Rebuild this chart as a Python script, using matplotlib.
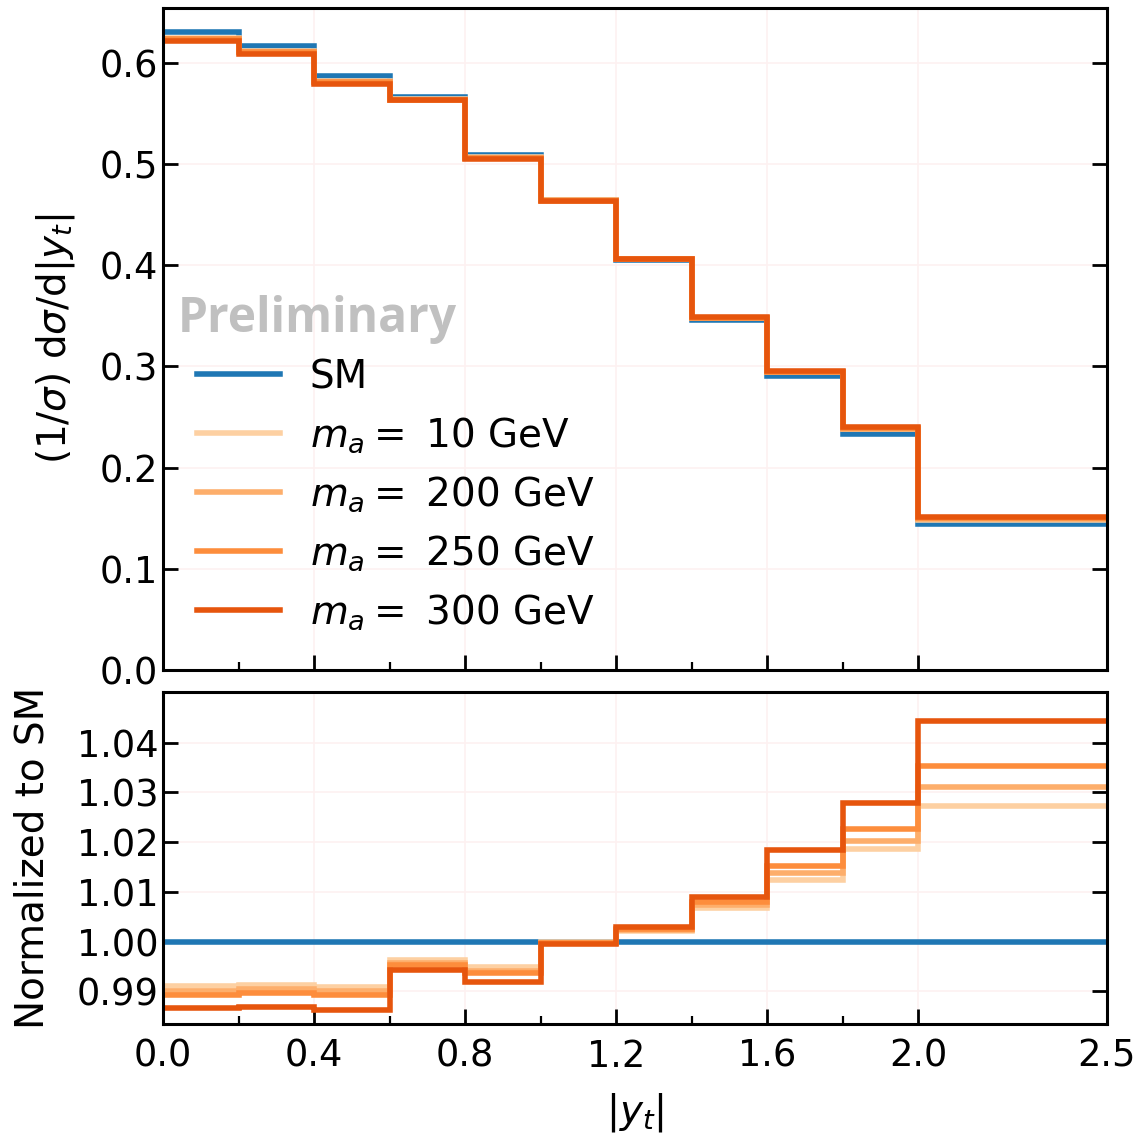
import numpy as np
import matplotlib
matplotlib.use("Agg")
import matplotlib.pyplot as plt

# bin edges in |y_t|
edges = [0.0, 0.2, 0.4, 0.6, 0.8, 1.0, 1.2, 1.4, 1.6, 1.8, 2.0, 2.5]

# normalised SM distribution
sm = [0.630, 0.6166, 0.587, 0.566, 0.509, 0.464, 0.4054, 0.3455, 0.2905, 0.2336, 0.1448]

# ratio to SM for each pseudoscalar mass
masses = [10, 200, 250, 300]
ratio_10 = [0.9910, 0.9913, 0.9909, 0.9963, 0.9949, 1.0000, 1.0022, 1.0067, 1.0124, 1.0186, 1.0272]
ratio_200 = [0.9901, 0.9904, 0.9900, 0.9958, 0.9942, 0.9998, 1.0024, 1.0074, 1.0138, 1.0202, 1.0311]
ratio_250 = [0.9892, 0.9896, 0.9892, 0.9953, 0.9936, 0.9997, 1.0026, 1.0080, 1.0153, 1.0227, 1.0353]
ratio_300 = [0.9866, 0.9868, 0.9863, 0.9944, 0.9919, 0.9995, 1.0030, 1.0090, 1.0185, 1.0279, 1.0443]
ratios = [ratio_10, ratio_200, ratio_250, ratio_300]

colors = ["#fdd0a2", "#fdae6b", "#fd8d3c", "#e6550d"]
sm_color = "#1f77b4"

plt.rcParams["font.size"] = 26.5
plt.rcParams["axes.labelsize"] = 28
plt.rcParams["legend.fontsize"] = 28
plt.rcParams["axes.linewidth"] = 2.2
plt.rcParams["mathtext.fontset"] = "dejavusans"

fig = plt.figure(figsize=(11.4, 11.4), dpi=100)
ax = fig.add_axes([0.143, 0.412, 0.828, 0.581])
rax = fig.add_axes([0.143, 0.102, 0.828, 0.291], sharex=ax)

sm_arr = np.array(sm)
ax.stairs(sm_arr, edges, baseline=None, color=sm_color, lw=4, label="SM")
for m, r, c in zip(masses, ratios, colors):
    ax.stairs(sm_arr * np.array(r), edges, baseline=None, color=c, lw=4,
              label=r"$m_a = $ %d GeV" % m)

rax.stairs(np.ones(len(sm)), edges, baseline=None, color=sm_color, lw=4)
for r, c in zip(ratios, colors):
    rax.stairs(np.array(r), edges, baseline=None, color=c, lw=4)

ax.set_ylim(0, 0.654)
ax.set_yticks(np.arange(0, 0.61, 0.1))
ax.set_ylabel(r"(1/$\sigma$) d$\sigma$/d$|y_t|$", labelpad=16)

rax.set_xlim(0, 2.5)
rax.set_ylim(0.9835, 1.0502)
rticks = [0.99, 1.00, 1.01, 1.02, 1.03, 1.04]
rax.set_yticks(rticks)
rax.set_yticklabels(["%.2f" % v for v in rticks])
rax.set_ylabel("Normalized to SM", labelpad=18)
rax.set_xlabel(r"$|y_t|$", labelpad=12)
rax.set_xticks([0.0, 0.4, 0.8, 1.2, 1.6, 2.0, 2.5])
rax.set_xticks([0.2, 0.6, 1.0, 1.4, 1.8], minor=True)
plt.setp(ax.get_xticklabels(), visible=False)

for a in (ax, rax):
    a.tick_params(which="major", direction="in", length=11, width=2, right=True, top=False)
    a.tick_params(which="minor", direction="in", length=6, width=1.6, right=True, top=False)
    a.tick_params(axis="x", which="major", pad=10)
    a.grid(True, which="major", color="#fdf1f1", lw=1.2)
    a.set_axisbelow(True)

ax.legend(loc="lower left", bbox_to_anchor=(0.0196, 0.034), borderaxespad=0,
          frameon=False, handlelength=2.13, handletextpad=0.77, labelspacing=0.5)
ax.text(0.016, 0.529, "Preliminary", transform=ax.transAxes, ha="left", va="center",
        fontsize=34.5, fontweight="bold", color="#c0c0c0", family="Open Sans")

fig.savefig("out.png", dpi=100)
